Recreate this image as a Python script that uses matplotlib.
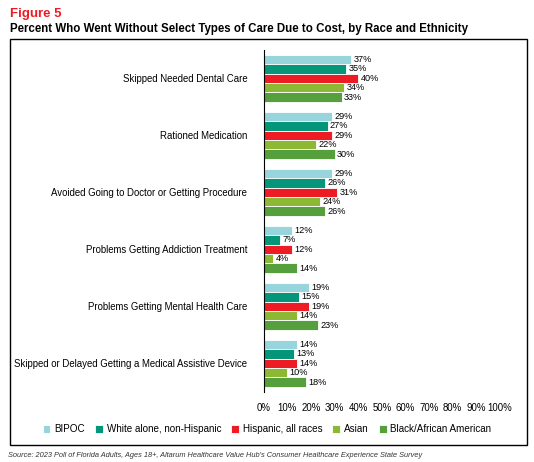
import numpy as np
import matplotlib.pyplot as plt
from matplotlib.patches import Rectangle

plt.rcParams['font.family'] = ['Liberation Sans', 'DejaVu Sans']

categories = ['Skipped Needed Dental Care', 'Rationed Medication',
              'Avoided Going to Doctor or Getting Procedure',
              'Problems Getting Addiction Treatment',
              'Problems Getting Mental Health Care',
              'Skipped or Delayed Getting a Medical Assistive Device']
series = ['BIPOC', 'White alone, non-Hispanic', 'Hispanic, all races', 'Asian', 'Black/African American']
values = [
    [37, 29, 29, 12, 19, 14],
    [35, 27, 26, 7, 15, 13],
    [40, 29, 31, 12, 19, 14],
    [34, 22, 24, 4, 14, 10],
    [33, 30, 26, 14, 23, 18],
]
colors = ['#98d4dc', '#05967a', '#ed1c24', '#8cb833', '#55a03c']

fig = plt.figure(figsize=(5.34, 4.62), dpi=100)
fig.text(0.019, 0.97, 'Figure 5', color='#ed1c24', fontsize=9.5, fontweight='bold', va='center')
fig.text(0.019, 0.937, 'Percent Who Went Without Select Types of Care Due to Cost, by Race and Ethnicity',
         fontsize=8.3, fontweight='bold', va='center')
fig.patches.append(Rectangle((0.019, 0.037), 0.968, 0.879, transform=fig.transFigure,
                             fill=False, edgecolor='black', linewidth=1))
fig.text(0.015, 0.015, "Source: 2023 Poll of Florida Adults, Ages 18+, Altarum Healthcare Value Hub's Consumer Healthcare Experience State Survey",
         fontsize=5.3, style='italic', color='#333333', va='center')

ax = fig.add_axes([0.494, 0.152, 0.442, 0.74])
h = 0.165
y = np.arange(len(categories))
for i, (s, vals, c) in enumerate(zip(series, values, colors)):
    pos = y + (i - 2) * h
    ax.barh(pos, vals, height=h, color=c, edgecolor='white', linewidth=0.6, label=s)
    for p, v in zip(pos, vals):
        ax.text(v + 1, p, f'{v}%', va='center', ha='left', fontsize=6.6)

ax.set_xlim(0, 100)
ax.set_ylim(len(categories) - 0.5, -0.5)
ax.set_yticks(y)
ax.set_yticklabels(categories, fontsize=6.9)
ax.set_xticks(range(0, 101, 10))
ax.set_xticklabels([f'{t}%' for t in range(0, 101, 10)], fontsize=6.9)
for side in ['top', 'right', 'bottom']:
    ax.spines[side].set_visible(False)
ax.tick_params(axis='both', length=0)
ax.tick_params(axis='x', pad=8)
ax.tick_params(axis='y', pad=12)

ax.legend(loc='center', bbox_to_anchor=(0.5, 0.071), bbox_transform=fig.transFigure, ncol=5,
          frameon=False, fontsize=7.1, handlelength=0.8, handleheight=0.8, columnspacing=1.0,
          handletextpad=0.4)

plt.savefig('out.png', dpi=100)
